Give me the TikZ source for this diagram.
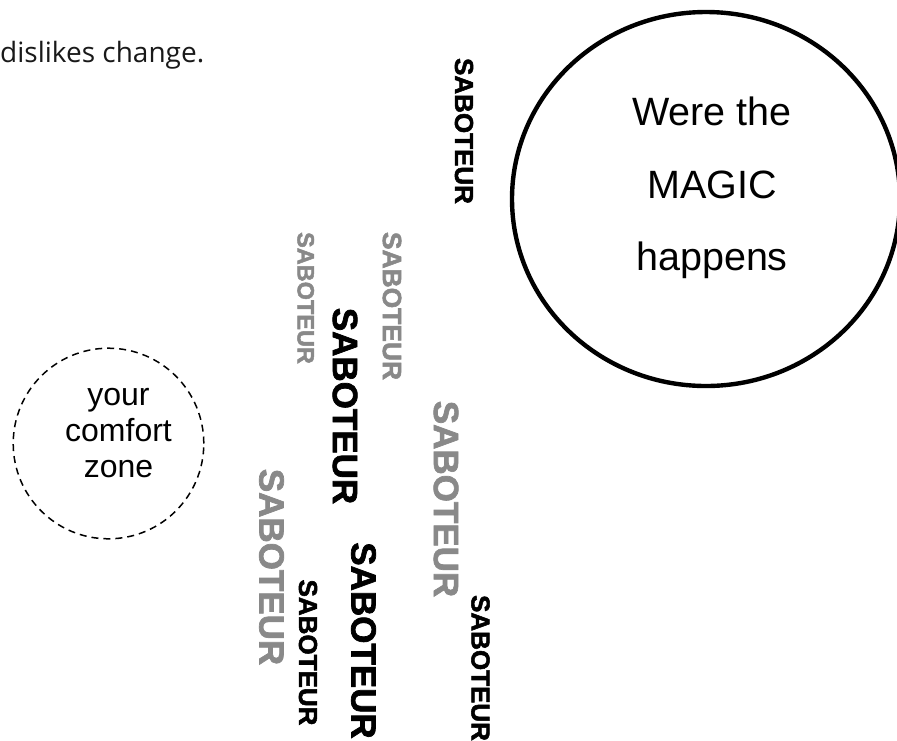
\documentclass[tikz,border=0pt]{standalone}
\usepackage{fontspec}
\setmainfont{Liberation Sans}
\newfontfamily\opensans{Open Sans}
\newfontfamily\sabfont[FakeBold=2]{Liberation Sans Bold}
\usetikzlibrary{shapes.geometric}
\definecolor{sabgray}{RGB}{137,137,137}
\definecolor{inkdark}{RGB}{25,25,25}
\tikzset{
  sabk/.style={font=\sabfont\fontsize{#1pt}{#1pt}\selectfont, rotate=-90, inner sep=0pt, anchor=center, text=black},
  sabg/.style={font=\sabfont\fontsize{#1pt}{#1pt}\selectfont, rotate=-90, inner sep=0pt, anchor=center, text=sabgray},
  magictext/.style={font=\fontsize{39.5pt}{44pt}\selectfont, inner sep=0pt, anchor=base},
  comforttext/.style={font=\fontsize{32pt}{36pt}\selectfont, inner sep=0pt, anchor=base},
  bigring/.style={draw, ellipse, line width=4.4pt, minimum width=388pt, minimum height=374pt, inner sep=0pt},
  dashring/.style={draw, circle, line width=1.5pt, dash pattern=on 7pt off 5pt, minimum size=190.6pt, inner sep=0pt}
}
\begin{document}
\begin{tikzpicture}[x=1pt, y=-1pt]
\useasboundingbox (0,0) rectangle (897,740);
\clip (0,0) rectangle (897,740);

% top text
\node[font=\opensans\fontsize{28pt}{33pt}\selectfont, text=inkdark, anchor=base west, inner sep=0pt] (dislikes) at (0,62) {dislikes change.};

% magic circle
\node[bigring] (magic) at (706,199) {};
\node[magictext] (were) at (712,125) {Were the};
\node[magictext] (magicw) at (712,198) {MAGIC};
\node[magictext] (happens) at (712,270) {happens};

% comfort zone
\node[dashring] (comfort) at (108.5,443.5) {};
\node[comforttext] (your) at (118.5,405) {your};
\node[comforttext] (comf) at (118.5,441.7) {comfort};
\node[comforttext] (zone) at (118.5,477) {zone};

% saboteurs
\node[sabk=26] (s1) at (464,131) {SABOTEUR};
\node[sabg=23.5] (s2) at (305.7,298) {SABOTEUR};
\node[sabg=26.4] (s3) at (392,306) {SABOTEUR};
\node[sabk=35] (s4) at (345,406) {SABOTEUR};
\node[sabg=35] (s5) at (446,499) {SABOTEUR};
\node[sabg=35] (s6) at (271.5,567) {SABOTEUR};
\node[sabk=26] (s7) at (308,652.5) {SABOTEUR};
\node[sabk=35] (s8) at (363.5,640.5) {SABOTEUR};
\node[sabk=26] (s9) at (480.5,668) {SABOTEUR};
\end{tikzpicture}
\end{document}
